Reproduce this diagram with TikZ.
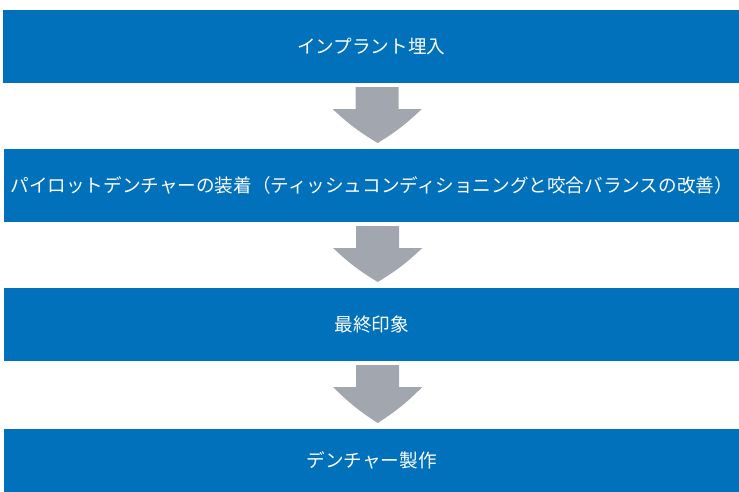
\documentclass[tikz,border=0pt]{standalone}
\usepackage{fontspec}
\newfontfamily\jp{Noto Sans CJK JP}
\usetikzlibrary{calc}
\definecolor{boxblue}{HTML}{0071BA}
\definecolor{arrowgray}{HTML}{A2A6AE}
\tikzset{
  box/.style={fill=boxblue, draw=none, inner sep=0pt, text=white,
    font=\jp\fontsize{18.6pt}{22pt}\selectfont, anchor=north west},
  arr/.style={fill=arrowgray, draw=none}
}
\newcommand\flowarrow[2]{%
  \fill[arr] ($(#1.south)+(-15.5pt,-4pt)$) -- ($(#1.south)+(27.5pt,-4pt)$)
    -- ($(#1.south)+(27.5pt,-26pt)$) -- ($(#1.south)+(50.5pt,-26pt)$)
    to[bend left=6] ($(#2.north)+(6pt,6pt)$)
    to[bend left=6] ($(#1.south)+(-38.5pt,-26pt)$)
    -- ($(#1.south)+(-15.5pt,-26pt)$) -- cycle;}
\begin{document}
\begin{tikzpicture}[x=1pt,y=-1pt]
\useasboundingbox (0,0) rectangle (739,492);
\node[box, minimum width=736pt, minimum height=72.7pt] (b1) at (3,10) {インプラント埋入};
\node[box, minimum width=735pt, minimum height=72.7pt] (b2) at (4,149) {パイロットデンチャーの装着（ティッシュコンディショニングと咬合バランスの改善）};
\node[box, minimum width=735pt, minimum height=72.7pt] (b3) at (4,288) {最終印象};
\node[box, minimum width=735pt, minimum height=63pt] (b4) at (4,429) {デンチャー製作};
\flowarrow{b1}{b2}
\flowarrow{b2}{b3}
\flowarrow{b3}{b4}
\end{tikzpicture}
\end{document}
